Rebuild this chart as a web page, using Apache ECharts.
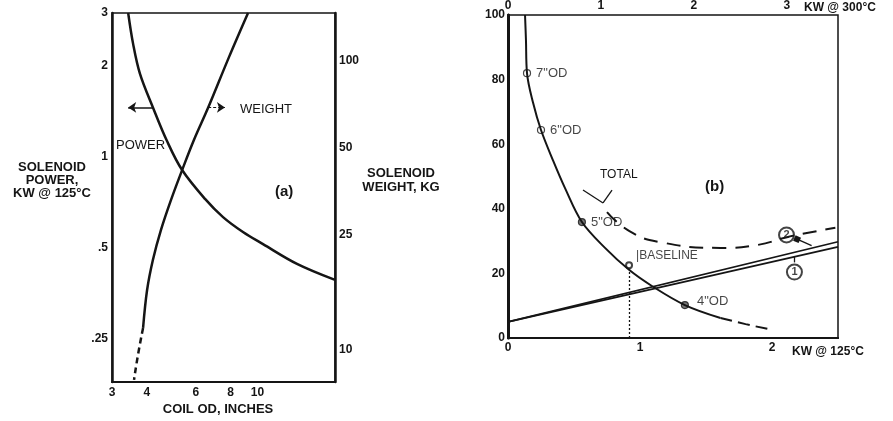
<!DOCTYPE html>
<html>
<head>
<meta charset="utf-8">
<script src="https://cdn.jsdelivr.net/npm/echarts@6/dist/echarts.min.js"></script>
<style>
  html, body { margin: 0; padding: 0; background: #fff; }
  #chart { width: 893px; height: 421px; }
</style>
</head>
<body>
<div id="chart"></div>
<script>
// panel (a): coil OD (inches) vs power (kW @125C) and weight (kg), log-log
const odTicks = [3, 4, 6, 8, 10];
const powerTicks = [0.25, 0.5, 1, 2, 3];
const weightTicks = [10, 25, 50, 100];
const powerCurve = [[3.43, 3], [3.57, 2.38], [3.78, 1.89], [4.21, 1.46], [4.73, 1.13], [5.36, 0.906],
  [6.48, 0.727], [7.52, 0.633], [8.87, 0.565], [10.47, 0.515], [13.87, 0.443], [19, 0.392]];
const weightSolid = [[9.25, 146], [7.9, 102.7], [6.64, 68.4], [5.91, 53], [5.36, 41.7], [4.89, 32.9],
  [4.5, 25.9], [4.21, 20.4], [4.01, 16], [3.88, 11.85]];
const weightDashed = [[3.88, 11.85], [3.72, 9.56], [3.6, 7.83]];

// panel (b): power (kW) vs weight (kg)
const mainSolid = [[0.129, 100], [0.136, 92.3], [0.144, 82], [0.19, 72.8], [0.25, 64.4], [0.34, 55.1],
  [0.432, 46.4], [0.56, 35.9], [0.735, 27.9], [0.917, 21.1], [1.09, 16.1], [1.34, 10.2], [1.61, 6.2]];
const mainDashed = [[1.61, 6.2], [1.8, 4.3], [1.97, 2.8]];
const totalCurve = [[0.75, 39], [0.92, 33.1], [1.15, 29.7], [1.61, 27.9], [1.89, 28.8], [2.12, 31.3], [2.48, 34.1]];
const line1 = [[0, 5], [2.5, 28.2]];
const line2 = [[0, 5], [2.5, 29.8]];
const odPoints = [[0.144, 82], [0.25, 64.4], [0.56, 35.9], [1.34, 10.2]];
const odNames = ['7"OD', '6"OD', '5"OD', '4"OD'];
const baselinePoint = [0.917, 22.5];

const ink = '#151515';
const tickFont = { color: ink, fontFamily: 'Liberation Sans', fontWeight: 'bold', fontSize: 12 };
const noteFont = { fill: ink, fontFamily: 'Liberation Sans', fontSize: 13 };

const chart = echarts.init(document.getElementById('chart'));
chart.setOption({
  backgroundColor: '#fff',
  animation: false,
  grid: [
    { left: 112, top: 13, width: 223, height: 369, show: true, borderColor: ink, borderWidth: 1.5 },
    { left: 508, top: 15, width: 330, height: 323, show: true, borderColor: ink, borderWidth: 1.5 }
  ],
  xAxis: [
    {
      gridIndex: 0, type: 'log', logBase: 10, min: 3, max: 19,
      axisLine: { lineStyle: { color: ink, width: 2 } }, axisTick: { show: false }, splitLine: { show: false },
      axisLabel: Object.assign({ customValues: odTicks, margin: 5 }, tickFont)
    },
    {
      gridIndex: 1, type: 'value', min: 0, max: 2.5, interval: 1, position: 'bottom',
      axisLine: { lineStyle: { color: ink, width: 2 } }, axisTick: { show: false }, splitLine: { show: false },
      axisLabel: Object.assign({ margin: 4, showMaxLabel: false }, tickFont)
    },
    {
      gridIndex: 1, type: 'value', min: 0, max: 3.55, interval: 1, position: 'top',
      axisLine: { lineStyle: { color: ink, width: 2 } }, axisTick: { show: false }, splitLine: { show: false },
      axisLabel: Object.assign({ margin: 3, showMaxLabel: false }, tickFont)
    }
  ],
  yAxis: [
    {
      gridIndex: 0, type: 'log', logBase: 2, min: 0.18, max: 3, position: 'left',
      axisLine: { lineStyle: { color: ink, width: 2.5 } }, axisTick: { show: false }, splitLine: { show: false },
      axisLabel: Object.assign({ customValues: powerTicks, margin: 4,
        formatter: v => (v < 1 ? String(v).replace('0.', '.') : String(v)) }, tickFont)
    },
    {
      gridIndex: 0, type: 'log', logBase: 2, min: 7.7, max: 146, position: 'right',
      axisLine: { lineStyle: { color: ink, width: 2.5 } }, axisTick: { show: false }, splitLine: { show: false },
      axisLabel: Object.assign({ customValues: weightTicks, margin: 4 }, tickFont)
    },
    {
      gridIndex: 1, type: 'value', min: 0, max: 100, interval: 20, position: 'left',
      axisLine: { lineStyle: { color: ink, width: 2.5 } }, axisTick: { show: false }, splitLine: { show: false },
      axisLabel: Object.assign({ margin: 3 }, tickFont)
    },
    {
      gridIndex: 1, type: 'value', min: 0, max: 100, position: 'right',
      axisLine: { lineStyle: { color: ink, width: 3 } }, axisTick: { show: false }, splitLine: { show: false },
      axisLabel: { show: false }
    }
  ],
  series: [
    {
      type: 'line', xAxisIndex: 0, yAxisIndex: 0, data: powerCurve, smooth: 0.35, symbol: 'none',
      lineStyle: { color: ink, width: 2.5 },
      markLine: {
        silent: true, symbol: ['none', 'arrow'], symbolSize: 8, label: { show: false },
        lineStyle: { color: ink, width: 1.5, type: 'solid' },
        data: [[{ coord: [4.21, 1.46] }, { coord: [3.43, 1.46] }]]
      }
    },
    {
      type: 'line', xAxisIndex: 0, yAxisIndex: 1, data: weightSolid, smooth: 0.35, symbol: 'none',
      lineStyle: { color: ink, width: 2.5 }
    },
    {
      type: 'line', xAxisIndex: 0, yAxisIndex: 1, data: weightDashed, smooth: true, symbol: 'none',
      lineStyle: { color: ink, width: 2.5, type: [6, 4] }
    },
    {
      type: 'line', xAxisIndex: 0, yAxisIndex: 0, data: [], symbol: 'none',
      markLine: {
        silent: true, symbol: ['none', 'arrow'], symbolSize: 8, label: { show: false },
        lineStyle: { color: ink, width: 1.2, type: [3, 2] },
        data: [[{ coord: [6.65, 1.46] }, { coord: [7.64, 1.46] }]]
      }
    },
    {
      type: 'line', xAxisIndex: 1, yAxisIndex: 2, data: mainSolid, smooth: 0.35, symbol: 'none',
      lineStyle: { color: ink, width: 2 }
    },
    {
      type: 'line', xAxisIndex: 1, yAxisIndex: 2, data: mainDashed, smooth: true, symbol: 'none',
      lineStyle: { color: ink, width: 2, type: [12, 6] }
    },
    {
      type: 'line', xAxisIndex: 1, yAxisIndex: 2, data: totalCurve, smooth: true, symbol: 'none',
      lineStyle: { color: ink, width: 2, type: [14, 9] }
    },
    {
      type: 'line', xAxisIndex: 1, yAxisIndex: 2, data: line1, symbol: 'none',
      lineStyle: { color: ink, width: 1.7 }
    },
    {
      type: 'line', xAxisIndex: 1, yAxisIndex: 2, data: line2, symbol: 'none',
      lineStyle: { color: ink, width: 1.7 },
      markLine: {
        silent: true, label: { show: false }, symbol: ['none', 'none'],
        lineStyle: { color: ink, width: 1.3, type: 'solid' },
        data: [
          [{ coord: [0.917, 0], lineStyle: { type: [2, 2] } }, { coord: [0.917, 21.5] }],
          [{ coord: [0.568, 45.8] }, { coord: [0.72, 41.8] }],
          [{ coord: [0.788, 45.8] }, { coord: [0.72, 41.8] }],
          [{ coord: [2.17, 23.4] }, { coord: [2.17, 25.3] }],
          [{ coord: [2.19, 30.6], symbol: ['none', 'arrow'], symbolSize: 6 }, { coord: [2.3, 28.6] }]
        ]
      }
    },
    {
      type: 'scatter', xAxisIndex: 1, yAxisIndex: 2, symbolSize: 7,
      data: odPoints.map((p, i) => ({
        value: p,
        itemStyle: i >= 2 ? { color: '#555', borderColor: ink, borderWidth: 1.2 } : { color: '#fff', borderColor: ink, borderWidth: 1.2 },
        label: { show: true, formatter: odNames[i], position: 'right', distance: 5,
          offset: i === 3 ? [3, -4] : [0, 0],
          color: ink, fontFamily: 'Liberation Sans', fontSize: 13 }
      }))
    },
    {
      type: 'scatter', xAxisIndex: 1, yAxisIndex: 2, symbol: 'emptyCircle', symbolSize: 6,
      itemStyle: { color: ink, borderWidth: 1.2 },
      data: [{ value: baselinePoint,
        label: { show: true, formatter: '|BASELINE', position: 'right', offset: [-2, -10],
          color: ink, fontFamily: 'Liberation Sans', fontSize: 12 } }]
    },
    {
      type: 'scatter', xAxisIndex: 1, yAxisIndex: 2, symbol: 'emptyCircle', symbolSize: 15,
      itemStyle: { color: ink, borderWidth: 1.4 },
      label: { show: true, position: 'inside', color: ink, fontFamily: 'Liberation Sans', fontWeight: 'bold', fontSize: 11,
        formatter: p => p.data.name },
      data: [{ value: [2.11, 31.9], name: '2' }, { value: [2.17, 20.4], name: '1' }]
    }
  ],
  graphic: [
    { type: 'text', style: Object.assign({ x: 52, y: 161, text: 'SOLENOID\nPOWER,\nKW @ 125°C', align: 'center', verticalAlign: 'top', lineHeight: 13, fontWeight: 'bold' }, noteFont) },
    { type: 'text', style: Object.assign({ x: 401, y: 166, text: 'SOLENOID\nWEIGHT, KG', align: 'center', verticalAlign: 'top', lineHeight: 14, fontWeight: 'bold' }, noteFont) },
    { type: 'text', style: Object.assign({ x: 218, y: 403, text: 'COIL OD, INCHES', align: 'center', verticalAlign: 'top', fontWeight: 'bold' }, noteFont) },
    { type: 'text', style: Object.assign({ x: 240, y: 103, text: 'WEIGHT', verticalAlign: 'top' }, noteFont) },
    { type: 'text', style: Object.assign({ x: 116, y: 139, text: 'POWER', verticalAlign: 'top' }, noteFont) },
    { type: 'text', style: { x: 275, y: 184, text: '(a)', fontSize: 15, fontWeight: 'bold', fill: ink, fontFamily: 'Liberation Sans', verticalAlign: 'top' } },
    { type: 'text', style: { x: 705, y: 179, text: '(b)', fontSize: 15, fontWeight: 'bold', fill: ink, fontFamily: 'Liberation Sans', verticalAlign: 'top' } },
    { type: 'text', style: Object.assign({ x: 600, y: 169, text: 'TOTAL', verticalAlign: 'top', fontSize: 12 }, { fill: ink, fontFamily: 'Liberation Sans' }) },
    { type: 'text', style: Object.assign({ x: 804, y: 2, text: 'KW @ 300°C', verticalAlign: 'top', fontWeight: 'bold', fontSize: 12 }, { fill: ink, fontFamily: 'Liberation Sans' }) },
    { type: 'text', style: Object.assign({ x: 792, y: 346, text: 'KW @ 125°C', verticalAlign: 'top', fontWeight: 'bold', fontSize: 12 }, { fill: ink, fontFamily: 'Liberation Sans' }) }
  ]
});
</script>
</body>
</html>
